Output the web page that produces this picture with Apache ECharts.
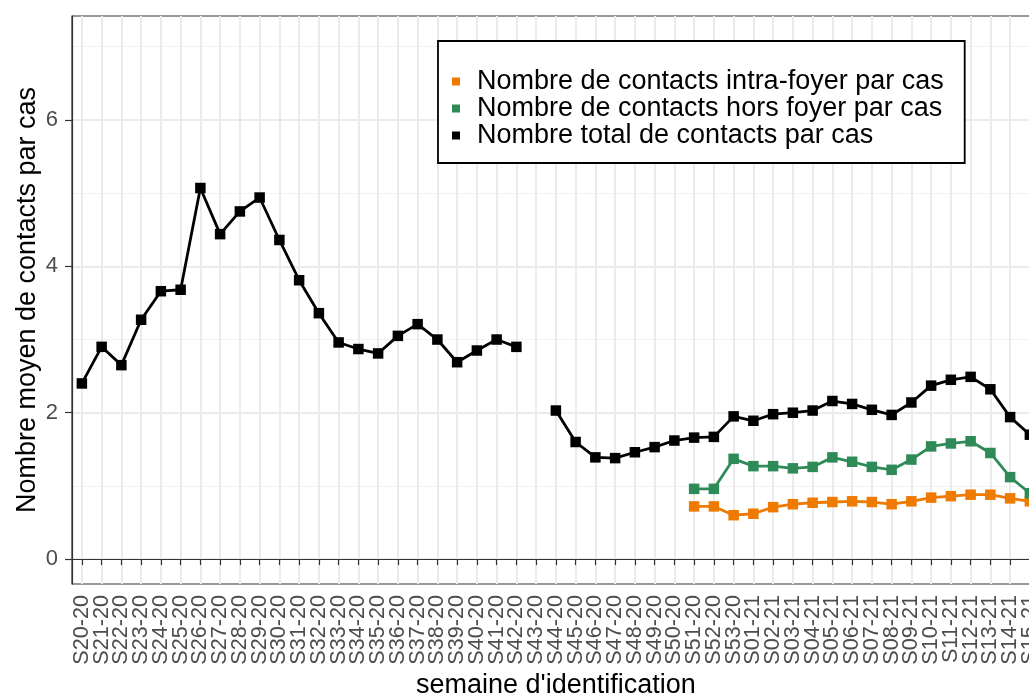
<!DOCTYPE html>
<html>
<head>
<meta charset="utf-8">
<script src="https://cdn.jsdelivr.net/npm/echarts@6/dist/echarts.min.js"></script>
<style>
    html, body { margin: 0; padding: 0; background: #fff; overflow: hidden; }
    #chart { width: 1060px; height: 695px; }
</style>
</head>
<body>
<div id="chart"></div>
<script>
    // semaines
    var weeks = [
        'S20-20', 'S21-20', 'S22-20', 'S23-20', 'S24-20', 'S25-20', 'S26-20', 'S27-20', 'S28-20', 'S29-20',
        'S30-20', 'S31-20', 'S32-20', 'S33-20', 'S34-20', 'S35-20', 'S36-20', 'S37-20', 'S38-20', 'S39-20',
        'S40-20', 'S41-20', 'S42-20', 'S43-20', 'S44-20', 'S45-20', 'S46-20', 'S47-20', 'S48-20', 'S49-20',
        'S50-20', 'S51-20', 'S52-20', 'S53-20', 'S01-21', 'S02-21', 'S03-21', 'S04-21', 'S05-21', 'S06-21',
        'S07-21', 'S08-21', 'S09-21', 'S10-21', 'S11-21', 'S12-21', 'S13-21', 'S14-21', 'S15-21'
    ];

    var totalContacts = [
        2.40, 2.90, 2.65, 3.27, 3.66, 3.68, 5.07, 4.44, 4.75, 4.94,
        4.36, 3.81, 3.36, 2.96, 2.87, 2.81, 3.05, 3.21, 3.00, 2.69,
        2.85, 3.00, 2.90, null, 2.03, 1.60, 1.39, 1.38, 1.46, 1.53,
        1.62, 1.66, 1.67, 1.95, 1.89, 1.98, 2.00, 2.03, 2.16, 2.12,
        2.04, 1.97, 2.14, 2.37, 2.45, 2.49, 2.32, 1.94, 1.70
    ];

    // a partir de S51-20
    var horsFoyer = [
        null, null, null, null, null, null, null, null, null, null,
        null, null, null, null, null, null, null, null, null, null,
        null, null, null, null, null, null, null, null, null, null,
        null, 0.96, 0.96, 1.37, 1.27, 1.27, 1.24, 1.26, 1.39, 1.33,
        1.26, 1.22, 1.36, 1.54, 1.58, 1.61, 1.45, 1.12, 0.90
    ];

    var intraFoyer = [
        null, null, null, null, null, null, null, null, null, null,
        null, null, null, null, null, null, null, null, null, null,
        null, null, null, null, null, null, null, null, null, null,
        null, 0.72, 0.72, 0.60, 0.62, 0.71, 0.75, 0.77, 0.78, 0.79,
        0.78, 0.75, 0.79, 0.84, 0.86, 0.88, 0.88, 0.83, 0.79
    ];

    var yTicks = [0, 2, 4, 6];

    var names = [
        'Nombre de contacts intra-foyer par cas',
        'Nombre de contacts hors foyer par cas',
        'Nombre total de contacts par cas'
    ];
    var colors = ['#EE7A00', '#2E8B57', '#000000'];

    var font = "'Liberation Sans', Arial, Helvetica, sans-serif";

    var myChart = echarts.init(document.getElementById('chart'), null, { renderer: 'canvas' });

    function lineSerie(name, data, color) {
        return {
            name: name,
            type: 'line',
            data: data,
            symbol: 'rect',
            symbolSize: 10.5,
            connectNulls: false,
            lineStyle: { color: color, width: 2.8 },
            itemStyle: { color: color },
            emphasis: { disabled: true },
            animation: false
        };
    }

    var option = {
        backgroundColor: '#fff',
        textStyle: { fontFamily: font },
        grid: {
            left: 72,
            right: 20.25,
            top: 16,
            bottom: 111,
            outerBoundsMode: 'none',
            containLabel: false,
            show: true,
            borderColor: '#333333',
            borderWidth: 1.2,
            backgroundColor: 'transparent'
        },
        legend: {
            orient: 'vertical',
            left: 438,
            top: 41,
            data: names,
            icon: 'rect',
            itemWidth: 8,
            itemHeight: 8,
            itemGap: 0,
            selectedMode: false,
            padding: [27, 21, 14, 14],
            borderColor: '#000',
            borderWidth: 1.8,
            backgroundColor: '#fff',
            textStyle: {
                fontFamily: font,
                fontSize: 27,
                color: '#000',
                lineHeight: 26.5,
                padding: [0, 0, 0, 12]
            }
        },
        xAxis: {
            type: 'category',
            data: weeks,
            boundaryGap: true,
            name: "semaine d'identification",
            nameLocation: 'middle',
            nameGap: 88,
            nameMoveOverlap: false,
            nameTextStyle: { fontFamily: font, fontSize: 27, color: '#000' },
            axisLine: { show: true, lineStyle: { color: '#333333', width: 1.2 } },
            axisTick: { show: true, alignWithLabel: true, interval: 0, length: 6, lineStyle: { color: '#333333', width: 1.2 } },
            axisLabel: { interval: 0, rotate: 90, margin: 11, fontSize: 21.6, color: '#4D4D4D', fontFamily: font },
            splitLine: { show: true, alignWithLabel: true, interval: 0, lineStyle: { color: '#EBEBEB', width: 2 } }
        },
        yAxis: {
            type: 'value',
            min: -0.34,
            max: 7.42,
            splitNumber: 4,
            minInterval: 2,
            maxInterval: 2,
            name: 'Nombre moyen de contacts par cas',
            nameLocation: 'middle',
            nameGap: 31,
            nameMoveOverlap: false,
            nameTextStyle: { fontFamily: font, fontSize: 27, color: '#000' },
            axisLine: { show: true, lineStyle: { color: '#333333', width: 1.2 } },
            axisTick: { show: true, length: 7, customValues: yTicks, lineStyle: { color: '#333333', width: 1.2 } },
            axisLabel: { customValues: yTicks, margin: 14, fontSize: 22, color: '#4D4D4D', fontFamily: font },
            splitLine: { show: true, lineStyle: { color: '#EBEBEB', width: 2 } },
            minorTick: { show: false, splitNumber: 2 },
            minorSplitLine: { show: true, lineStyle: { color: '#F2F2F2', width: 1 } }
        },
        series: [
            lineSerie(names[0], intraFoyer, colors[0]),
            lineSerie(names[1], horsFoyer, colors[1]),
            lineSerie(names[2], totalContacts, colors[2])
        ]
    };

    myChart.setOption(option);
</script>
</body>
</html>
